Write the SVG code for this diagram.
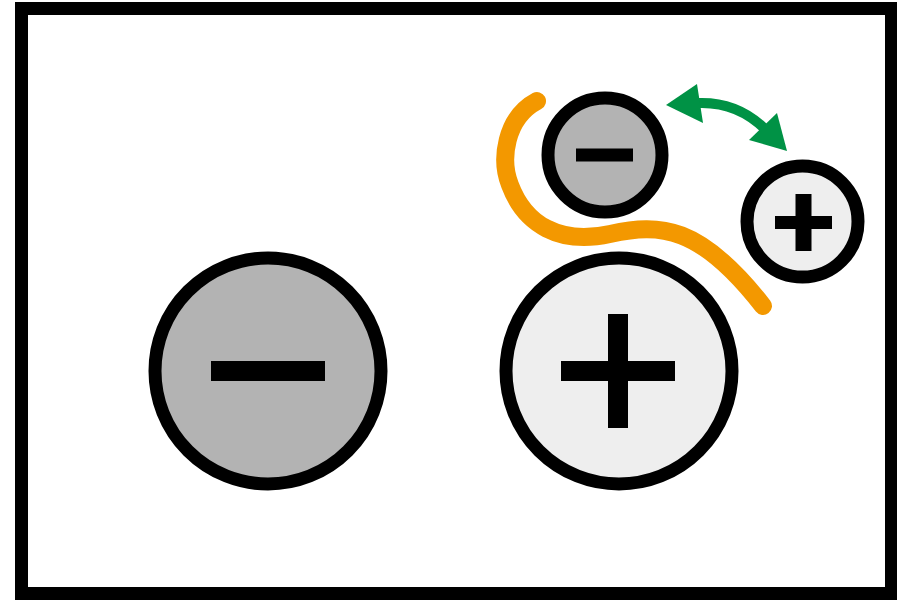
<svg xmlns="http://www.w3.org/2000/svg" width="897" height="600" viewBox="0 0 897 600">
  <style>
    .frame { fill: #ffffff; stroke: #000000; stroke-width: 13; }
    .ring { stroke: #000000; stroke-width: 13; }
    .neg { fill: #b3b3b3; }
    .pos { fill: #eeeeee; }
    .sign { fill: #000000; }
    .wire { fill: none; stroke: #f39800; stroke-width: 18; stroke-linecap: round; }
    .move { fill: none; stroke: #009245; stroke-width: 10; }
    .head { fill: #009245; }
  </style>
  <rect class="frame" x="21.5" y="8.5" width="870" height="585"/>
  <g id="wire">
    <path class="wire" d="M537,101 C505,118 500,160 510,185 C525,225 560,245 610,234 C660,223 700,225 763,306"/>
  </g>
  <g id="big-minus">
    <circle class="ring neg" cx="268" cy="371" r="113"/>
    <rect class="sign" x="211" y="361" width="114" height="20"/>
  </g>
  <g id="big-plus">
    <circle class="ring pos" cx="619" cy="371" r="113"/>
    <rect class="sign" x="561" y="361" width="114" height="20"/>
    <rect class="sign" x="608" y="314" width="20" height="114"/>
  </g>
  <g id="small-minus">
    <circle class="ring neg" cx="605" cy="155" r="57"/>
    <rect class="sign" x="576" y="148.5" width="57" height="13"/>
  </g>
  <g id="small-plus">
    <circle class="ring pos" cx="802.5" cy="221.5" r="55.5"/>
    <rect class="sign" x="775" y="216" width="57" height="13"/>
    <rect class="sign" x="795.5" y="194" width="16" height="57"/>
  </g>
  <g id="connectors">
    <path class="move" d="M698,103 Q737,101.5 765,129"/>
    <polygon class="head" points="666,105 697,84 703,123"/>
    <polygon class="head" points="787,151 777,113 749,140"/>
  </g>
</svg>
